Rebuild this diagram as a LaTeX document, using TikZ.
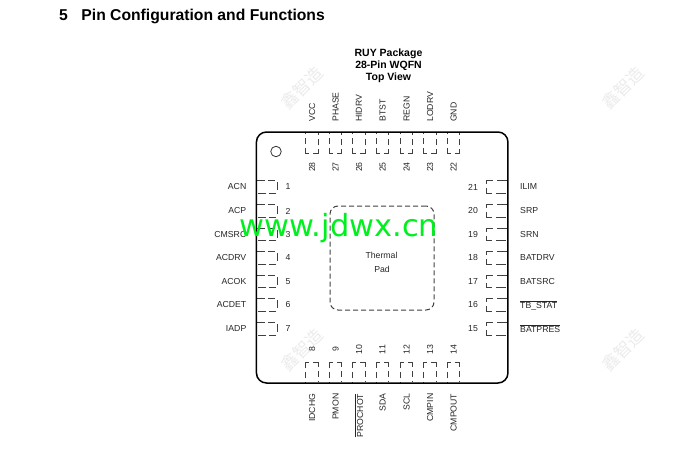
\documentclass[tikz,border=0pt]{standalone}
\usepackage{fontspec}
\setmainfont{Liberation Sans}
\newfontfamily\cjkwm{Noto Sans CJK SC}
\newfontfamily\dvs{DejaVu Sans}
\newcommand{\fs}[1]{\fontsize{#1}{#1}\selectfont}
\tikzset{
  lab/.style={inner sep=0pt,text=black!85,font=\fs{8.7}},
  pinh/.style={inner sep=0pt,minimum width=20pt,minimum height=12pt},
  pinv/.style={inner sep=0pt,minimum width=12pt,minimum height=20pt},
  dashv/.style={draw=black!75,line width=1pt,dash pattern=on 1pt off 4pt on 6pt off 4pt on 9pt off 4pt on 9pt off 4pt on 6pt off 4pt on 1pt},
  dashl/.style={draw=black!75,line width=1pt,dash pattern=on 8pt off 3pt on 7pt off 4pt on 8pt off 4pt on 7pt off 3pt on 8pt},
  dashr/.style={draw=black!75,line width=1pt,dash pattern=on 10pt off 4pt},
  wm/.style={rotate=45,text=black!8,inner sep=0pt,font=\cjkwm\fs{17}},
  head/.style={inner sep=0pt,anchor=base,font=\bfseries\fs{10.5}},
}
\begin{document}
\begin{tikzpicture}[x=1pt,y=-1pt]
\useasboundingbox (0,0) rectangle (679,452);
\foreach \i/\x/\y in {a/302/88,b/623/88,c/302/350,d/623/350}
  \node[wm] (wm\i) at (\x,\y) {鑫智造};
\node[anchor=base west,inner sep=0pt,font=\bfseries\fs{15.7}] (title) at (59,21) {5\hspace{13.5pt}Pin Configuration and Functions};
\node[head] (h1) at (388.5,56.5) {RUY Package};
\node[head] (h2) at (388.5,68) {28-Pin WQFN};
\node[head] (h3) at (388.5,80) {Top View};
\node[draw=black!80,circle,line width=.8pt,minimum size=10.5pt,inner sep=0pt] (dot) at (276,151.5) {};
\node[draw=black!75,dashed,dash pattern=on 5pt off 3pt,line width=1pt,rounded corners=8pt,minimum width=104pt,minimum height=104pt,inner sep=0pt] (pad) at (382,258) {};
\node[lab] (t1) at (381.5,255) {Thermal};
\node[lab] (t2) at (382,269.5) {Pad};
% left pins
\foreach \n/\y/\t in {1/187/ACN,2/211/ACP,3/234.5/CMSRC,4/258/ACDRV,5/281.5/ACOK,6/305/ACDET,7/329/IADP}{
  \node[pinh] (p\n) at (267,\y) {};
  \draw[dashl] (p\n.north west) -- (p\n.north east) -- (p\n.south east) -- (p\n.south west);
  \node[lab] (n\n) at (288,\y) {\n};
  \node[lab,anchor=east] (l\n) at (246.5,\y) {\t};
}
% right pins
\foreach \n/\y/\t in {21/187/ILIM,20/211/SRP,19/234.5/SRN,18/258/BATDRV,17/281.5/BATSRC,16/305/$\overline{\mbox{TB\_STAT}}$,15/329/$\overline{\mbox{BATPRES}}$}{
  \node[pinh] (p\n) at (497,\y) {};
  \draw[dashr] (p\n.north east) -- (p\n.north west) -- (p\n.south west) -- (p\n.south east);
  \node[lab] (n\n) at (473,\y) {\n};
  \node[lab,anchor=west] (l\n) at (520,\y) {\t};
}
% top pins
\foreach \n/\x/\t in {28/312/VCC,27/335.5/PHASE,26/359/HIDRV,25/382.5/BTST,24/406.5/REGN,23/430/LODRV,22/453.5/GND}{
  \node[pinv] (p\n) at (\x,143) {};
  \draw[dashv] (p\n.north west) -- (p\n.south west) -- (p\n.south east) -- (p\n.north east);
  \node[lab,rotate=90] (n\n) at (\x,167) {\n};
  \node[lab,rotate=90,anchor=west] (l\n) at (\x,122) {\t};
}
% bottom pins
\foreach \n/\x/\t in {8/312/IDCHG,9/335.5/PMON,10/359/$\overline{\mbox{PROCHOT}}$,11/382.5/SDA,12/406.5/SCL,13/430/CMPIN,14/453.5/CMPOUT}{
  \node[pinv] (p\n) at (\x,373) {};
  \draw[dashv] (p\n.south west) -- (p\n.north west) -- (p\n.north east) -- (p\n.south east);
  \node[lab,rotate=90] (n\n) at (\x,349.5) {\n};
  \node[lab,rotate=90,anchor=east] (l\n) at (\x,393.5) {\t};
}
\node[draw,line width=1.5pt,rounded corners=10pt,minimum width=251.5pt,minimum height=251pt,inner sep=0pt] (pkg) at (382.2,257.5) {};
\node[inner sep=0pt,text={rgb,255:red,0;green,240;blue,30},font=\dvs\fs{30.5}] (site) at (339,228) {www.jdwx.cn};
\end{tikzpicture}
\end{document}
